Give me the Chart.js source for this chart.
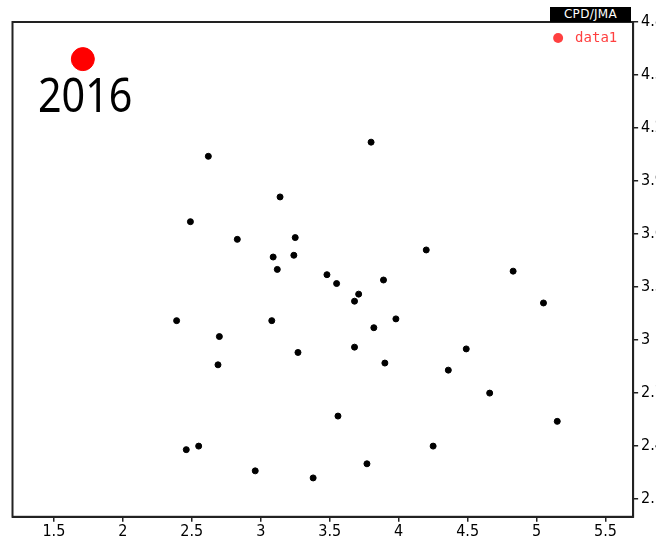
<!DOCTYPE html>
<html>
<head>
<meta charset="utf-8">
<script src="https://cdn.jsdelivr.net/npm/chart.js@4"></script>
<style>
  html, body { margin: 0; padding: 0; background: #fff; overflow: hidden; }
  #wrap { position: relative; width: 680px; height: 543px; }
  #tag {
    position: absolute; left: 550px; top: 7px; width: 81px; height: 15px;
    background: #000; color: #fff; font: 12px "DejaVu Sans"; letter-spacing: 0.3px;
    text-align: center; line-height: 15px;
  }
  #year {
    position: absolute; left: 38px; top: 70px; font: 48px "Noto Sans"; line-height: 1;
    transform: scaleX(0.86); transform-origin: left top; color: #000;
  }
</style>
</head>
<body>
<div id="wrap">
  <canvas id="chart" width="680" height="543"></canvas>
  <div id="tag">CPD/JMA</div>
  <div id="year">2016</div>
</div>
<script>
// black scatter points
const xValues = [2.62, 2.49, 2.83, 3.14, 3.25, 3.24, 3.09, 3.12, 3.80, 3.48, 3.55, 3.71, 3.68,
  3.89, 4.20, 4.83, 5.05, 3.98, 3.82, 2.39, 2.70, 3.08, 3.68, 3.27, 4.49, 2.69, 3.90,
  4.36, 4.66, 3.56, 5.15, 4.25, 2.55, 2.46, 2.96, 3.77, 3.38];
const yValues = [4.04, 3.67, 3.57, 3.81, 3.58, 3.48, 3.47, 3.40, 4.12, 3.37, 3.32, 3.26, 3.22,
  3.34, 3.51, 3.39, 3.21, 3.12, 3.07, 3.11, 3.02, 3.11, 2.96, 2.93, 2.95, 2.86, 2.87,
  2.83, 2.70, 2.57, 2.54, 2.40, 2.40, 2.38, 2.26, 2.30, 2.22];

// highlighted 2016 point
const markX = [1.71];
const markY = [4.59];

const xTicks = [1.5, 2, 2.5, 3, 3.5, 4, 4.5, 5, 5.5];
const yTicks = [2.1, 2.4, 2.7, 3, 3.3, 3.6, 3.9, 4.2, 4.5, 4.8];

const axisFont = { family: "'DejaVu Sans Condensed', 'DejaVu Sans', sans-serif", size: 16 };

// box around the plot + the little legend in its top right corner
const frame = {
  id: "frame",
  beforeDatasetsDraw(chart) {
    const { ctx, chartArea: a } = chart;
    ctx.save();
    ctx.strokeStyle = "#222";
    ctx.lineWidth = 2;
    ctx.strokeRect(a.left, a.top, a.right - a.left, a.bottom - a.top);

    ctx.fillStyle = "#ff4040";
    ctx.beginPath();
    ctx.arc(a.right - 75, a.top + 16, 5, 0, Math.PI * 2);
    ctx.fill();
    ctx.font = "14px 'DejaVu Sans Mono', monospace";
    ctx.textBaseline = "middle";
    ctx.fillText(chart.data.datasets[1].label, a.right - 58, a.top + 16);
    ctx.restore();
  },
};

new Chart(document.querySelector("#chart"), {
  type: "scatter",
  data: {
    datasets: [
      {
        label: "points",
        data: xValues.map((x, i) => ({ x, y: yValues[i] })),
        backgroundColor: "#000",
        borderColor: "#000",
        pointRadius: 3,
      },
      {
        label: "data1",
        data: markX.map((x, i) => ({ x, y: markY[i] })),
        backgroundColor: "#ff0000",
        borderColor: "#ff0000",
        pointRadius: 11.5,
      },
    ],
  },
  options: {
    responsive: false,
    animation: false,
    layout: { padding: { left: 12, top: 22, right: 13, bottom: 2 } },
    plugins: {
      tooltip: { enabled: false },
      legend: { display: false },
    },
    scales: {
      x: {
        type: "linear",
        min: 1.2,
        max: 5.7,
        afterBuildTicks: (s) => { s.ticks = xTicks.map((v) => ({ value: v })); },
        grid: { drawOnChartArea: false, tickLength: 5, color: "#222", lineWidth: 1.5 },
        border: { color: "#222", width: 2 },
        ticks: { color: "#000", font: axisFont, padding: 0, maxRotation: 0, autoSkip: false,
          callback: (v) => String(v) },
      },
      y: {
        position: "right",
        min: 2.0,
        max: 4.8,
        afterBuildTicks: (s) => { s.ticks = yTicks.map((v) => ({ value: v })); },
        grid: { drawOnChartArea: false, tickLength: 5, color: "#222", lineWidth: 1.5 },
        border: { color: "#222", width: 2 },
        ticks: { color: "#000", font: axisFont, padding: 3, autoSkip: false,
          callback: (v) => String(v) },
      },
    },
  },
  plugins: [frame],
});
</script>
</body>
</html>
